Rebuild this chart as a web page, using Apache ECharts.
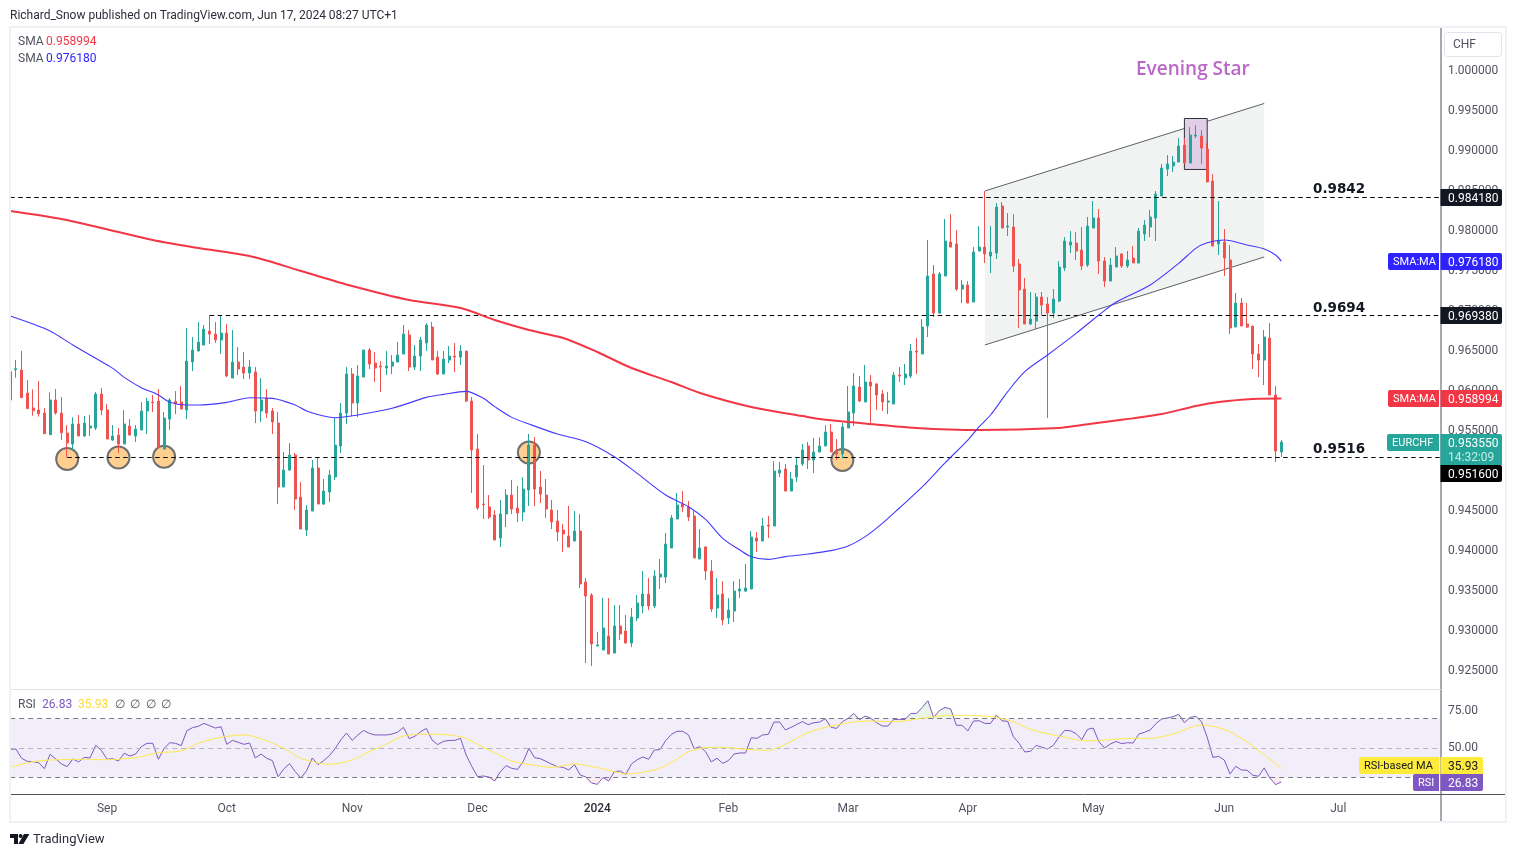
<!DOCTYPE html>
<html>
<head>
<meta charset="utf-8">
<title>EURCHF</title>
<script src="https://cdn.jsdelivr.net/npm/echarts@6/dist/echarts.min.js"></script>
<style>
html, body { margin: 0; padding: 0; background: #fff; }
#chart { width: 1516px; height: 857px; }
</style>
</head>
<body>
<div id="chart"></div>
<script>
// daily EURCHF candles
const opens = [
    0.95881,0.96260,0.96256,0.95968,0.95781,0.95756,0.95718,0.95448,0.95881,0.95718,
    0.95468,0.95331,0.95581,0.95431,0.95531,0.95531,0.95956,0.95756,0.95381,0.95443,
    0.95331,0.95556,0.95431,0.95506,0.95743,0.95856,0.95868,0.95268,0.95643,0.95864,
    0.95856,0.95756,0.96356,0.96493,0.96568,0.96743,0.96706,0.96631,0.96718,0.96156,
    0.96356,0.96293,0.96218,0.96231,0.95743,0.95906,0.95743,0.95593,0.94793,0.95006,
    0.95193,0.94668,0.94256,0.94493,0.95031,0.94581,0.94731,0.94918,0.95306,0.95718,
    0.96206,0.95843,0.96168,0.96506,0.96343,0.96306,0.96281,0.96306,0.96356,0.96456,
    0.96693,0.96293,0.96431,0.96593,0.96793,0.96418,0.96206,0.96381,0.96431,0.96418,
    0.96493,0.95868,0.95268,0.94581,0.94543,0.94443,0.94156,0.94456,0.94693,0.94531,
    0.94481,0.94756,0.95318,0.94793,0.94693,0.94506,0.94368,0.94256,0.94181,0.94118,
    0.94243,0.93606,0.93443,0.92806,0.92756,0.92931,0.92718,0.93056,0.92993,0.92843,
    0.93156,0.93306,0.93456,0.93306,0.93668,0.93668,0.94031,0.94393,0.94581,0.94543,
    0.94431,0.93893,0.94043,0.93743,0.93281,0.93456,0.93156,0.93243,0.93493,0.93493,
    0.93518,0.94156,0.94118,0.94318,0.94306,0.94968,0.95018,0.94743,0.94918,0.95081,
    0.95306,0.95131,0.95231,0.95306,0.95481,0.95256,0.95206,0.95531,0.95718,0.96043,
    0.95856,0.96106,0.96081,0.95956,0.95856,0.95831,0.96193,0.96156,0.96181,0.96493,
    0.96456,0.96806,0.97456,0.96968,0.97431,0.97856,0.97831,0.97268,0.97318,0.97106,
    0.97743,0.97793,0.97681,0.97718,0.98306,0.98043,0.98043,0.97581,0.97268,0.96831,
    0.96868,0.97168,0.97081,0.96968,0.97118,0.97531,0.97818,0.97843,0.97756,0.97568,
    0.98031,0.98156,0.97618,0.97368,0.97543,0.97706,0.97556,0.97656,0.97593,0.97956,
    0.98043,0.98156,0.98431,0.98768,0.98806,0.98856,0.99068,0.98843,0.99181,0.99181,
    0.99018,0.98618,0.97831,0.97856,0.97631,0.96793,0.97093,0.96831,0.96806,0.96456,
    0.96381,0.96656,0.95943,0.95231
];
const closes = [
    0.96235,0.96273,0.95910,0.95773,0.95748,0.95710,0.95460,0.95881,0.95718,0.95473,
    0.95343,0.95581,0.95431,0.95593,0.95556,0.95956,0.95756,0.95393,0.95431,0.95331,
    0.95581,0.95443,0.95518,0.95743,0.95864,0.95848,0.95289,0.95656,0.95881,0.95831,
    0.95768,0.96368,0.96506,0.96606,0.96768,0.96706,0.96631,0.96718,0.96181,0.96356,
    0.96268,0.96218,0.96293,0.95743,0.95881,0.95718,0.95606,0.94793,0.95006,0.95193,
    0.94643,0.94268,0.94506,0.95031,0.94581,0.94743,0.94943,0.95318,0.95718,0.96206,
    0.95843,0.96181,0.96506,0.96331,0.96281,0.96293,0.96306,0.96356,0.96443,0.96706,
    0.96293,0.96431,0.96631,0.96818,0.96381,0.96206,0.96393,0.96431,0.96418,0.96493,
    0.95868,0.95256,0.94531,0.94573,0.94418,0.94131,0.94456,0.94693,0.94518,0.94468,
    0.94768,0.95318,0.94768,0.94706,0.94518,0.94356,0.94231,0.94206,0.94043,0.94243,
    0.93581,0.93431,0.92831,0.92818,0.93031,0.92706,0.93056,0.92956,0.92843,0.93168,
    0.93343,0.93456,0.93306,0.93681,0.93706,0.94081,0.94406,0.94568,0.94543,0.94418,
    0.93906,0.94031,0.93743,0.93268,0.93443,0.93131,0.93256,0.93493,0.93518,0.93531,
    0.94168,0.94118,0.94306,0.94306,0.94993,0.95006,0.94743,0.94893,0.95068,0.95256,
    0.95131,0.95231,0.95306,0.95481,0.95231,0.95206,0.95543,0.95731,0.96056,0.95868,
    0.96106,0.96056,0.95943,0.95856,0.95868,0.96193,0.96181,0.96206,0.96493,0.96481,
    0.96793,0.97431,0.96968,0.97456,0.97868,0.97793,0.97268,0.97318,0.97093,0.97731,
    0.97793,0.97706,0.97731,0.98293,0.98031,0.98056,0.97556,0.97256,0.96831,0.96893,
    0.97168,0.97068,0.96968,0.97143,0.97543,0.97868,0.97856,0.97743,0.97556,0.98056,
    0.98156,0.97618,0.97368,0.97568,0.97681,0.97556,0.97631,0.97593,0.97993,0.98068,
    0.98168,0.98456,0.98781,0.98831,0.98856,0.99056,0.98843,0.99193,0.99193,0.99031,
    0.98606,0.97806,0.97881,0.97656,0.96781,0.97093,0.96806,0.96793,0.96456,0.96381,
    0.96668,0.95943,0.95243,0.95355
];
const highs = [
    0.96339,0.96381,0.96494,0.96131,0.96014,0.96118,0.95781,0.95977,0.96018,0.95918,
    0.95568,0.95664,0.95693,0.95681,0.95693,0.95981,0.96031,0.95831,0.95568,0.95531,
    0.95756,0.95643,0.95568,0.95856,0.95910,0.95943,0.96018,0.95731,0.95906,0.95993,
    0.96056,0.96781,0.96668,0.96856,0.96818,0.96943,0.96856,0.96943,0.96831,0.96756,
    0.96543,0.96481,0.96381,0.96293,0.96156,0.96018,0.95781,0.95731,0.95231,0.95343,
    0.95218,0.94856,0.94568,0.95131,0.95156,0.94893,0.95006,0.95656,0.95843,0.96293,
    0.96281,0.96318,0.96506,0.96531,0.96481,0.96368,0.96493,0.96443,0.96606,0.96818,
    0.96756,0.96568,0.96668,0.96843,0.96856,0.96493,0.96493,0.96556,0.96593,0.96568,
    0.96493,0.95918,0.95456,0.95068,0.94693,0.94506,0.94631,0.94768,0.94881,0.94806,
    0.94918,0.95456,0.95418,0.94993,0.94893,0.94631,0.94506,0.94331,0.94556,0.94493,
    0.94456,0.93656,0.93468,0.92981,0.93406,0.93406,0.93318,0.93318,0.93193,0.93281,
    0.93443,0.93743,0.93656,0.93756,0.93893,0.94218,0.94443,0.94718,0.94743,0.94618,
    0.94493,0.94268,0.94056,0.93881,0.93656,0.93618,0.93406,0.93618,0.93643,0.93831,
    0.94243,0.94231,0.94406,0.94431,0.95118,0.95106,0.95081,0.94981,0.95156,0.95331,
    0.95356,0.95406,0.95414,0.95568,0.95581,0.95393,0.95593,0.96056,0.96218,0.96181,
    0.96318,0.96193,0.96093,0.96006,0.95981,0.96231,0.96293,0.96331,0.96581,0.96656,
    0.96893,0.97881,0.97568,0.97481,0.98144,0.98206,0.98006,0.97381,0.97368,0.97793,
    0.98056,0.98493,0.98056,0.98343,0.98356,0.98218,0.98206,0.97643,0.97406,0.97231,
    0.97218,0.97231,0.97168,0.97268,0.97618,0.97918,0.97993,0.97981,0.98043,0.98168,
    0.98368,0.98268,0.97668,0.97656,0.97793,0.97718,0.97743,0.97806,0.98031,0.98131,
    0.98256,0.98493,0.98831,0.98943,0.98931,0.99156,0.99156,0.99293,0.99318,0.99256,
    0.99093,0.98706,0.98368,0.98018,0.97818,0.97218,0.97156,0.97093,0.96806,0.96581,
    0.96756,0.96843,0.96056,0.95381
];
const lows = [
    0.95860,0.96160,0.95910,0.95773,0.95685,0.95673,0.95460,0.95448,0.95698,0.95381,
    0.95164,0.95256,0.95431,0.95423,0.95431,0.95506,0.95693,0.95393,0.95368,0.95218,
    0.95331,0.95443,0.95356,0.95506,0.95456,0.95731,0.95277,0.95268,0.95506,0.95706,
    0.95768,0.95643,0.96243,0.96493,0.96568,0.96581,0.96593,0.96456,0.96168,0.96156,
    0.96193,0.96143,0.96143,0.95593,0.95606,0.95656,0.95456,0.94581,0.94793,0.94993,
    0.94506,0.94268,0.94181,0.94493,0.94581,0.94568,0.94606,0.94881,0.95218,0.95581,
    0.95681,0.95668,0.96168,0.96268,0.96106,0.95981,0.96193,0.96206,0.96356,0.96456,
    0.96243,0.96256,0.96243,0.96493,0.96381,0.96193,0.96206,0.96343,0.96231,0.96318,
    0.95856,0.94718,0.94506,0.94393,0.94393,0.94131,0.94043,0.94293,0.94456,0.94356,
    0.94368,0.94556,0.94556,0.94593,0.94406,0.94268,0.94118,0.93981,0.94043,0.94118,
    0.93531,0.92593,0.92556,0.92806,0.92756,0.92706,0.92718,0.92881,0.92843,0.92793,
    0.93118,0.93218,0.93256,0.93281,0.93518,0.93593,0.94031,0.94393,0.94481,0.94368,
    0.93906,0.93893,0.93631,0.93231,0.93156,0.93068,0.93081,0.93106,0.93406,0.93481,
    0.93518,0.93981,0.94118,0.94156,0.94306,0.94918,0.94743,0.94743,0.94856,0.95056,
    0.95018,0.94968,0.95231,0.95306,0.95231,0.95131,0.95152,0.95531,0.95556,0.95856,
    0.95856,0.95593,0.95756,0.95743,0.95706,0.95831,0.96106,0.96068,0.96156,0.96206,
    0.96456,0.96668,0.96918,0.96956,0.97431,0.97793,0.97243,0.97093,0.97093,0.97106,
    0.97743,0.97593,0.97468,0.97643,0.98031,0.97931,0.97481,0.96781,0.96831,0.96818,
    0.96768,0.96943,0.95656,0.96906,0.97106,0.97493,0.97718,0.97631,0.97506,0.97543,
    0.98031,0.97456,0.97293,0.97368,0.97543,0.97531,0.97531,0.97593,0.97593,0.97868,
    0.97918,0.97868,0.98431,0.98681,0.98731,0.98856,0.98831,0.98843,0.99156,0.98831,
    0.98606,0.97806,0.97693,0.97431,0.96706,0.96793,0.96806,0.96781,0.96268,0.96168,
    0.96068,0.95943,0.95106,0.95168
];
// moving averages as [candle index, value]
const sma200 = [
    [0,0.98244],[9,0.98144],[16,0.98031],[25,0.97881],[33,0.97781],[42,0.97681],[51,0.97494],[60,0.97306],
    [70,0.97131],[79,0.97031],[85,0.96881],[91,0.96756],[97,0.96656],[103,0.96481],[109,0.96281],[116,0.96106],
    [121,0.95969],[130,0.95794],[139,0.95681],[142,0.95644],[149,0.95594],[159,0.95531],[170,0.95506],[184,0.95531],
    [188,0.95569],[196,0.95644],[202,0.95706],[208,0.95806],[212,0.95856],[218,0.95894],[223,0.95899]
];
const sma50 = [
    [0,0.96931],[4,0.96831],[7,0.96743],[11,0.96569],[15,0.96402],[18,0.96277],[20,0.96164],[23,0.96035],
    [26,0.95944],[28,0.95852],[31,0.95819],[33,0.95819],[38,0.95852],[42,0.95910],[46,0.95902],[50,0.95819],
    [52,0.95744],[55,0.95681],[57,0.95660],[61,0.95694],[67,0.95777],[73,0.95914],[76,0.95952],[80,0.95989],
    [83,0.95902],[85,0.95798],[88,0.95664],[91,0.95581],[96,0.95456],[101,0.95360],[106,0.95173],[110,0.94964],
    [115,0.94693],[119,0.94548],[122,0.94389],[125,0.94152],[128,0.94006],[130,0.93923],[133,0.93889],[136,0.93923],
    [140,0.93956],[144,0.93998],[147,0.94056],[150,0.94173],[153,0.94339],[156,0.94531],[160,0.94794],[164,0.95094],
    [168,0.95381],[170,0.95548],[172,0.95694],[175,0.95985],[178,0.96235],[182,0.96444],[187,0.96714],[191,0.96944],
    [194,0.97102],[200,0.97319],[205,0.97589],[208,0.97777],[210,0.97848],[213,0.97881],[217,0.97819],[220,0.97769],
    [222,0.97694],[223,0.97618]
];
const rsiValues = [
    49.1,49.3,43.0,40.9,40.7,40.0,35.9,45.7,42.5,39.1,
    37.3,42.5,40.5,43.6,43.2,51.8,48.4,42.3,42.7,41.1,
    46.4,44.5,45.9,50.9,53.2,53.2,42.3,49.8,53.6,53.2,
    51.6,61.8,63.9,64.8,66.8,65.2,63.6,64.5,52.5,55.2,
    53.9,52.5,53.4,43.2,45.9,43.0,41.4,30.4,35.7,39.3,
    33.9,29.5,34.5,43.2,38.6,41.4,44.8,49.5,55.5,60.2,
    55.2,58.9,62.0,60.0,58.9,58.9,58.9,59.5,60.9,64.1,
    56.4,58.0,61.1,63.4,55.5,52.3,54.5,55.2,55.2,56.6,
    45.2,37.3,30.4,30.9,30.2,27.5,33.9,38.0,36.1,35.4,
    40.7,49.8,43.4,42.7,40.9,38.9,37.3,36.8,35.0,38.6,
    31.6,30.2,26.1,25.2,29.8,27.5,33.9,34.3,32.0,39.1,
    42.0,43.9,42.3,48.6,48.9,55.0,59.3,61.4,61.4,58.9,
    49.5,50.9,47.5,40.5,43.0,39.5,41.4,45.9,46.6,46.6,
    57.0,56.6,58.9,59.3,67.7,67.7,62.3,64.1,66.1,68.0,
    65.9,67.3,67.7,70.0,64.1,63.4,68.0,70.2,73.6,69.3,
    71.8,70.2,67.3,65.0,65.0,69.5,69.5,69.5,73.6,73.6,
    77.7,82.3,70.9,75.5,77.7,76.6,65.5,65.5,61.6,68.4,
    68.6,66.8,66.8,72.5,68.6,68.2,57.7,53.2,47.3,47.7,
    51.8,50.5,49.3,51.8,57.5,62.0,61.8,59.8,55.7,62.7,
    63.6,54.3,50.0,52.7,54.5,53.0,53.6,53.4,59.5,60.7,
    62.3,66.6,69.8,70.5,71.4,73.0,67.3,70.9,71.6,68.0,
    57.3,43.6,44.3,41.8,32.3,37.5,35.0,34.8,31.4,30.7,
    36.4,29.5,25.0,26.83
];
const rsiMa = [
    [0,36.8],[4,40.7],[7,41.8],[13,42.3],[16,42.0],[22,43.4],[26,46.8],[30,48.0],[33,53.2],[37,57.3],
    [41,58.9],[44,56.4],[48,49.8],[51,43.0],[56,38.9],[60,41.8],[63,47.5],[66,52.7],[69,58.2],[73,59.5],
    [79,57.7],[83,50.5],[86,44.8],[88,41.1],[92,38.2],[95,36.8],[99,39.1],[103,36.6],[106,33.9],[108,32.3],
    [113,35.0],[116,40.0],[119,47.5],[122,50.2],[125,50.5],[129,49.1],[133,48.4],[136,52.5],[140,60.5],[144,65.0],
    [150,68.4],[155,68.0],[161,70.9],[165,72.3],[172,71.4],[176,68.0],[179,62.7],[185,57.3],[189,54.8],[197,56.6],
    [200,56.6],[204,59.5],[209,65.7],[213,62.7],[216,56.6],[220,45.2],[223,35.93]
];
// drawing tools on the chart
const levelValues = [0.984125, 0.969375, 0.951625];
const levelStarts = [0, 35, 10];
const channelPoints = [[171, 0.98494], [220, 0.99588], [220, 0.97669], [171, 0.96569]];
const starBox = [[206, 0.994], [210, 0.98763]];
const touchPoints = [[10, 0.95144], [19, 0.95163], [27, 0.95172], [91, 0.95225], [146, 0.95131]];
// time axis
const barCount = 252;
const monthIndex = [17, 38, 60, 82, 103, 126, 147, 168, 190, 213, 233];
const monthLabels = ['Sep', 'Oct', 'Nov', 'Dec', '2024', 'Feb', 'Mar', 'Apr', 'May', 'Jun', 'Jul'];

const FONT = 'Roboto, sans-serif';
const BLUE = '#2e22ff';
const RED = '#f23645';
const TEAL = '#26a69a';
const PURPLE = '#7e57c2';
const YELLOW = '#ffeb3b';
const INK = '#131722';
const GREY = '#50535e';

const categories = [];
for (let i = 0; i < barCount; i++) {
    const m = monthIndex.indexOf(i);
    categories.push(m >= 0 ? monthLabels[m] : '');
}
const candles = opens.map((o, i) => [o, closes[i], lows[i], highs[i]]);

function text(x, y, str, fill, font) {
    return {
        type: 'text', x: x, y: y + 1, z: 101, silent: true,
        style: { text: str, fill: fill, font: font || `12px ${FONT}`, textVerticalAlign: 'middle' },
    };
}
function box(x, y, w, h, fill, r) {
    return { type: 'rect', z: 100, silent: true, shape: { x: x, y: y, width: w, height: h, r: r || 0 }, style: { fill: fill } };
}
function priceTag(y, h, fill, value, color) {
    return [box(1440.5, y, 61.5, h, fill, [0, 2, 2, 0]), text(1448, y + 8.5, value, color || '#fff')];
}
function nameTag(x, y, fill, name, color) {
    return [box(x, y, 1439 - x, 17, fill, [2, 0, 0, 2]), text(x + 5, y + 8.5, name, color || '#fff', `11px ${FONT}`)];
}
function hline(x1, x2, y, color, width) {
    return { type: 'line', z: 99, silent: true, shape: { x1: x1, y1: y, x2: x2, y2: y }, style: { stroke: color, lineWidth: width || 1 } };
}
function vline(x, y1, y2, color, width) {
    return { type: 'line', z: 99, silent: true, shape: { x1: x, y1: y1, x2: x, y2: y2 }, style: { stroke: color, lineWidth: width || 1 } };
}

function renderChannel(params, api) {
    const p = channelPoints.map((c) => api.coord(c));
    const edge = { stroke: '#5d606b', lineWidth: 1 };
    return {
        type: 'group',
        children: [
            { type: 'polygon', shape: { points: p }, style: { fill: '#f1f3f2' } },
            { type: 'line', shape: { x1: p[0][0], y1: p[0][1], x2: p[1][0], y2: p[1][1] }, style: edge },
            { type: 'line', shape: { x1: p[3][0], y1: p[3][1], x2: p[2][0], y2: p[2][1] }, style: edge },
        ],
    };
}
function renderStarBox(params, api) {
    const a = api.coord(starBox[0]);
    const b = api.coord(starBox[1]);
    return {
        type: 'rect',
        shape: { x: a[0], y: a[1], width: b[0] - a[0], height: b[1] - a[1] },
        style: { fill: '#e1cfe8', stroke: '#2f3138', lineWidth: 1 },
    };
}

const levelSeries = levelValues.map((v, i) => ({
    type: 'line',
    xAxisIndex: 0,
    yAxisIndex: 0,
    z: 4,
    symbol: 'none',
    silent: true,
    lineStyle: { color: '#000', width: 1, type: [4.5, 3.5] },
    data: [[levelStarts[i], v], [barCount - 1, v]],
}));

const option = {
    animation: false,
    backgroundColor: '#fff',
    textStyle: { fontFamily: FONT },
    grid: [
        { left: 10.2, top: 30.5, width: 1430.7, height: 680 },
        { left: 10.2, top: 690, width: 1430.7, height: 104.5 },
    ],
    xAxis: [
        { type: 'category', gridIndex: 0, data: categories, boundaryGap: false, show: false },
        {
            type: 'category',
            gridIndex: 1,
            data: categories,
            boundaryGap: false,
            axisLine: { lineStyle: { color: GREY, width: 1 } },
            axisTick: { show: false },
            axisLabel: {
                interval: (i) => monthIndex.includes(i),
                color: GREY,
                fontSize: 12,
                fontFamily: FONT,
                margin: 8,
                hideOverlap: false,
                formatter: (v) => (v === '2024' ? '{y|2024}' : v),
                rich: { y: { color: '#2a2e39', fontWeight: 500, fontSize: 12, fontFamily: FONT } },
            },
        },
    ],
    yAxis: [
        {
            type: 'value',
            gridIndex: 0,
            position: 'right',
            min: 0.92,
            max: 1.005,
            interval: 0.005,
            splitLine: { show: false },
            axisLine: { show: false },
            axisTick: { show: false },
            axisLabel: {
                color: GREY,
                fontSize: 12,
                fontFamily: FONT,
                margin: 7,
                padding: [2, 0, 0, 0],
                formatter: (v) => (v < 0.924 || v > 1.001 ? '' : v.toFixed(6)),
            },
        },
        {
            type: 'value',
            gridIndex: 1,
            position: 'right',
            min: 18.26,
            max: 89.59,
            splitLine: { show: false },
            axisLine: { show: false },
            axisTick: { show: false },
            axisLabel: {
                customValues: [50, 75],
                color: GREY,
                fontSize: 12,
                fontFamily: FONT,
                margin: 7,
                padding: [2, 0, 0, 0],
                formatter: (v) => v.toFixed(2),
            },
        },
    ],
    series: [
        { type: 'custom', xAxisIndex: 0, yAxisIndex: 0, z: 1, silent: true, renderItem: renderChannel, data: [0] },
        { type: 'custom', xAxisIndex: 0, yAxisIndex: 0, z: 1, silent: true, renderItem: renderStarBox, data: [0] },
        {
            type: 'scatter',
            xAxisIndex: 0,
            yAxisIndex: 0,
            z: 2,
            silent: true,
            symbolSize: 22,
            itemStyle: { color: '#ffcf8f', borderColor: '#6f6f6f', borderWidth: 2, opacity: 1 },
            data: touchPoints,
        },
        {
            type: 'candlestick',
            xAxisIndex: 0,
            yAxisIndex: 0,
            z: 3,
            silent: true,
            barWidth: 2.5,
            itemStyle: { color: TEAL, color0: '#ef5350', borderColor: TEAL, borderColor0: '#ef5350', borderWidth: 1 },
            data: candles,
        },
        ...levelSeries,
        {
            type: 'line', xAxisIndex: 0, yAxisIndex: 0, z: 5, symbol: 'none', silent: true, smooth: 0.3,
            lineStyle: { color: RED, width: 2 }, data: sma200,
        },
        {
            type: 'line', xAxisIndex: 0, yAxisIndex: 0, z: 5, symbol: 'none', silent: true, smooth: 0.3,
            lineStyle: { color: '#4338ff', width: 1.1 }, data: sma50,
        },
        // overbought and oversold fill
        {
            type: 'line', xAxisIndex: 1, yAxisIndex: 1, z: 3, symbol: 'none', silent: true,
            lineStyle: { opacity: 0 },
            areaStyle: { origin: 70, color: 'rgba(76, 175, 80, 0.18)' },
            data: rsiValues.map((v) => Math.max(v, 70)),
        },
        {
            type: 'line', xAxisIndex: 1, yAxisIndex: 1, z: 3, symbol: 'none', silent: true,
            lineStyle: { opacity: 0 },
            areaStyle: { origin: 30, color: 'rgba(242, 54, 69, 0.14)' },
            data: rsiValues.map((v) => Math.min(v, 30)),
        },
        {
            type: 'line',
            xAxisIndex: 1,
            yAxisIndex: 1,
            z: 4,
            symbol: 'none',
            silent: true,
            lineStyle: { color: PURPLE, width: 1 },
            data: rsiValues,
            markArea: {
                silent: true,
                itemStyle: { color: 'rgba(126, 87, 194, 0.1)' },
                data: [[{ yAxis: 70 }, { yAxis: 30 }]],
            },
            markLine: {
                silent: true,
                symbol: 'none',
                label: { show: false },
                data: [
                    { yAxis: 70, lineStyle: { color: '#787b86', type: [5, 4], width: 1 } },
                    { yAxis: 50, lineStyle: { color: '#b4b5bb', type: [5, 4], width: 1 } },
                    { yAxis: 30, lineStyle: { color: '#787b86', type: [5, 4], width: 1 } },
                ],
            },
        },
        {
            type: 'line', xAxisIndex: 1, yAxisIndex: 1, z: 5, symbol: 'none', silent: true, smooth: 0.3,
            lineStyle: { color: '#ffe94d', width: 1 }, data: rsiMa,
        },
    ],
    graphic: { elements: [
        // page frame
        text(10, 15, 'Richard_Snow published on TradingView.com, Jun 17, 2024 08:27 UTC+1', '#2a2e39'),
        hline(9, 1507, 27, '#eff1f6', 2),
        hline(9, 1507, 822, '#eff1f6', 2),
        vline(10, 27, 822, '#eff1f6', 2),
        vline(1506, 27, 822, '#eff1f6', 2),
        vline(1441, 28, 821, GREY),
        hline(1441, 1505, 794.5, GREY),
        hline(11, 1441, 689.5, '#e0e3eb'),
        // currency button
        { type: 'rect', z: 100, silent: true, shape: { x: 1444.5, y: 32.5, width: 57, height: 24, r: 3 }, style: { fill: '#fff', stroke: '#e0e3eb' } },
        text(1453, 44, 'CHF', GREY),
        // legends
        text(18, 41, 'SMA', GREY),
        text(46, 41, '0.958994', RED),
        text(18, 58, 'SMA', GREY),
        text(46, 58, '0.976180', BLUE),
        text(18, 704, 'RSI', GREY),
        text(42, 704, '26.83', PURPLE),
        text(78, 704, '35.93', '#fdd835'),
        text(115, 704, '∅', GREY),
        text(130, 704, '∅', GREY),
        text(146, 704, '∅', GREY),
        text(161, 704, '∅', GREY),
        // annotations
        text(1136, 69, 'Evening Star', '#ba68c8', '600 19px "Open Sans"'),
        text(1313, 188, '0.9842', INK, '600 13.5px "DejaVu Sans"'),
        text(1313, 307, '0.9694', INK, '600 13.5px "DejaVu Sans"'),
        text(1313, 448.5, '0.9516', INK, '600 13.5px "DejaVu Sans"'),
        // price scale tags
        ...priceTag(189, 17, INK, '0.984180'),
        ...nameTag(1388, 253, BLUE, 'SMA:MA'),
        ...priceTag(253, 17, BLUE, '0.976180'),
        ...priceTag(307, 17, INK, '0.969380'),
        ...nameTag(1388, 390, RED, 'SMA:MA'),
        ...priceTag(390, 17, RED, '0.958994'),
        ...nameTag(1387, 434, TEAL, 'EURCHF'),
        box(1440.5, 434, 61.5, 31, TEAL, [0, 2, 0, 0]),
        text(1448, 442.5, '0.953550', '#fff'),
        text(1448, 456.5, '14:32:09', '#c5ebe7'),
        ...priceTag(465, 17, '#000', '0.951600'),
        // rsi scale tags
        box(1359, 757, 80, 17, YELLOW, [2, 0, 0, 2]),
        text(1364, 765.5, 'RSI-based MA', INK, `11px ${FONT}`),
        box(1440.5, 757, 42.5, 17, YELLOW, [0, 2, 0, 0]),
        text(1448, 765.5, '35.93', INK),
        box(1413, 774, 26, 17, PURPLE, [2, 0, 0, 2]),
        text(1418, 782.5, 'RSI', '#fff', `11px ${FONT}`),
        box(1440.5, 774, 42.5, 17, PURPLE, [0, 0, 2, 0]),
        text(1448, 782.5, '26.83', '#fff'),
        // footer logo
        { type: 'polygon', z: 100, silent: true, shape: { points: [[10, 834], [18, 834], [18, 844], [14, 844], [14, 838], [10, 838]] }, style: { fill: INK } },
        { type: 'circle', z: 100, silent: true, shape: { cx: 20.6, cy: 836, r: 2 }, style: { fill: INK } },
        { type: 'polygon', z: 100, silent: true, shape: { points: [[24, 834], [29.4, 834], [23.4, 844], [18.4, 844]] }, style: { fill: INK } },
        text(33, 839, 'TradingView', '#2a2e39', `13px ${FONT}`),
    ] },
};

const chart = echarts.init(document.getElementById('chart'));
chart.setOption(option);
</script>
</body>
</html>
